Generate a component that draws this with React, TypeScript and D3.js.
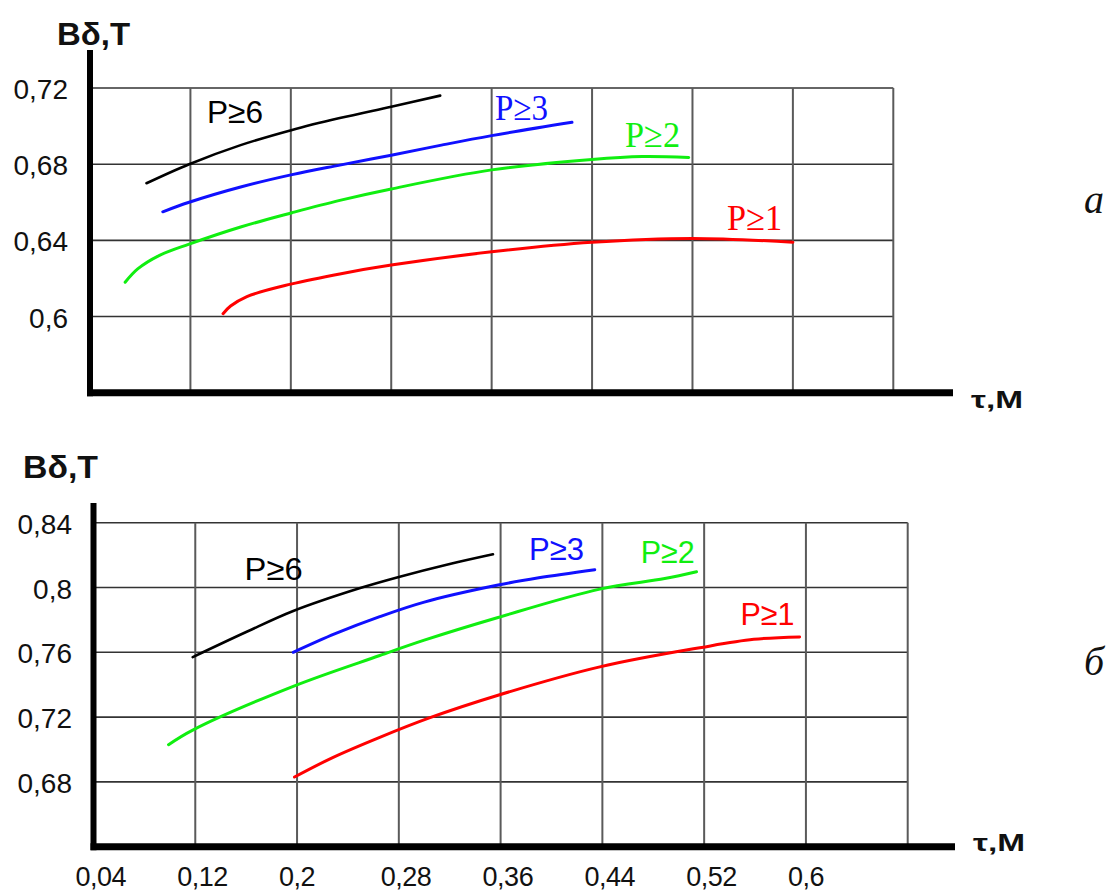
import * as d3 from 'd3';

// x axis (tau, m) — shared by both panels
const xTicks = [0.04, 0.12, 0.2, 0.28, 0.36, 0.44, 0.52, 0.6, 0.68];
const xTickLabels = ['0,04', '0,12', '0,2', '0,28', '0,36', '0,44', '0,52', '0,6'];

// panel "a"
const topYTicks = [0.6, 0.64, 0.68, 0.72];
const topP6: [number, number][] = [[0.085, 0.67], [0.119, 0.68], [0.16, 0.69], [0.201, 0.698], [0.239, 0.7042], [0.28, 0.7102], [0.319, 0.716]];
const topP3: [number, number][] = [[0.098, 0.655], [0.119, 0.66], [0.16, 0.668], [0.201, 0.6745], [0.239, 0.6795], [0.28, 0.6847], [0.32, 0.69], [0.36, 0.695], [0.424, 0.702]];
const topP2: [number, number][] = [[0.068, 0.618], [0.078, 0.625], [0.095, 0.632], [0.119, 0.638], [0.16, 0.647], [0.201, 0.6545], [0.239, 0.661], [0.28, 0.667], [0.36, 0.677], [0.44, 0.6825], [0.48, 0.684], [0.517, 0.6835]];
const topP1: [number, number][] = [[0.146, 0.6015], [0.152, 0.6055], [0.165, 0.6105], [0.2, 0.617], [0.24, 0.6225], [0.28, 0.627], [0.36, 0.634], [0.44, 0.639], [0.52, 0.641], [0.6, 0.639]];
const topLabelPos: [number, number][] = [[0.1332, 0.7016], [0.3627, 0.7032], [0.4663, 0.689], [0.5476, 0.6453]];

// panel "б"
const bottomYTicks = [0.68, 0.72, 0.76, 0.8, 0.84];
const bottomP6: [number, number][] = [[0.118, 0.757], [0.16, 0.7725], [0.197, 0.7855], [0.249, 0.7995], [0.28, 0.8065], [0.32, 0.8145], [0.354, 0.8205]];
const bottomP3: [number, number][] = [[0.197, 0.76], [0.23, 0.7715], [0.265, 0.782], [0.3, 0.791], [0.358, 0.8015], [0.39, 0.806], [0.434, 0.811]];
const bottomP2: [number, number][] = [[0.099, 0.703], [0.118, 0.712], [0.197, 0.739], [0.265, 0.758], [0.3, 0.7675], [0.358, 0.7815], [0.438, 0.799], [0.489, 0.8055], [0.514, 0.8097]];
const bottomP1: [number, number][] = [[0.198, 0.683], [0.228, 0.695], [0.265, 0.7075], [0.304, 0.7195], [0.358, 0.7335], [0.438, 0.751], [0.518, 0.763], [0.559, 0.768], [0.595, 0.7695]];
const bottomLabelPos: [number, number][] = [[0.1588, 0.8045], [0.3824, 0.8169], [0.4702, 0.8151], [0.5486, 0.7767]];

const seriesNames = ['P≥6', 'P≥3', 'P≥2', 'P≥1'];
const seriesColors = ['#000000', '#1010ff', '#10ee10', '#ff0000'];

const SANS = 'Arial, "Liberation Sans", sans-serif';
const SERIF = '"Liberation Serif", "Times New Roman", serif';

interface PanelProps {
  xRange: [number, number];
  yDomain: [number, number];
  yRange: [number, number];
  yTicks: number[];
  series: [number, number][][];
  labelPos: [number, number][];
  labelSerif: boolean;
  labelWidths: number[];
  yLabelRight: number;
  axisTop: number;
  axisEnd: number;
  titleX: number;
  titleY: number;
  titleW: number;
  unitY: number;
  showXLabels: boolean;
  tag: string;
  tagY: number;
}

function Panel(p: PanelProps) {
  const x = d3.scaleLinear().domain([0.04, 0.68]).range(p.xRange);
  const y = d3.scaleLinear().domain(p.yDomain).range(p.yRange);
  const yTop = p.yTicks[p.yTicks.length - 1];
  const line = d3.line<[number, number]>()
    .x(d => x(d[0]))
    .y(d => y(d[1]))
    .curve(d3.curveCatmullRom.alpha(0.5));
  const fmt = (v: number) => String(v).replace('.', ',');

  return (
    <g>
      {/* horizontal grid */}
      {p.yTicks.map(t => (
        <line key={'h' + t} x1={x(0.04)} x2={x(0.68)} y1={y(t)} y2={y(t)} stroke="#333" strokeWidth={1.6} />
      ))}
      {/* vertical grid */}
      {xTicks.slice(1).map(t => (
        <line key={'v' + t} x1={x(t)} x2={x(t)} y1={y(yTop)} y2={y(p.yDomain[0])} stroke="#5a5a5a" strokeWidth={2} />
      ))}
      {/* axes */}
      <line x1={x(0.04)} x2={x(0.04)} y1={p.axisTop} y2={y(p.yDomain[0]) + 3.5} stroke="#000" strokeWidth={6} />
      <line x1={x(0.04) - 3} x2={p.axisEnd} y1={y(p.yDomain[0])} y2={y(p.yDomain[0])} stroke="#000" strokeWidth={7} />

      {/* y tick labels */}
      {p.yTicks.map(t => (
        <text key={'yl' + t} x={p.yLabelRight} y={y(t) + 11} textAnchor="end" fontFamily={SANS} fontSize={28} fill="#111">
          {fmt(t)}
        </text>
      ))}

      {/* x tick labels */}
      {p.showXLabels && xTickLabels.map((lab, i) => (
        <text key={'xl' + i} x={x(xTicks[i]) - 18} y={886} fontFamily={SANS} fontSize={27} letterSpacing={-0.5} fill="#111">
          {lab}
        </text>
      ))}

      {/* curves */}
      {p.series.map((s, i) => (
        <path key={'s' + i} d={line(s) ?? ''} fill="none" stroke={seriesColors[i]} strokeWidth={i === 0 ? 2.6 : 3} strokeLinecap="round" />
      ))}

      {/* curve labels */}
      {p.labelPos.map((pos, i) => {
        const serif = p.labelSerif && i > 0;
        return (
          <text
            key={'cl' + i}
            x={x(pos[0])}
            y={y(pos[1])}
            fontFamily={serif ? SERIF : SANS}
            fontSize={serif ? 36 : 32}
            textLength={p.labelWidths[i]}
            lengthAdjust="spacingAndGlyphs"
            fill={seriesColors[i]}
          >
            {seriesNames[i]}
          </text>
        );
      })}

      {/* axis titles */}
      <text x={p.titleX} y={p.titleY} fontFamily={SANS} fontWeight="bold" fontSize={32} textLength={p.titleW} lengthAdjust="spacingAndGlyphs" fill="#111">
        Bδ,T
      </text>
      <text x={p.axisEnd + 18} y={p.unitY} fontFamily={SANS} fontWeight="bold" fontSize={24} textLength={52} lengthAdjust="spacingAndGlyphs" fill="#111">
        τ,M
      </text>
      <text x={1084} y={p.tagY} fontFamily={SERIF} fontStyle="italic" fontSize={40} fill="#111">
        {p.tag}
      </text>
    </g>
  );
}

export default function App() {
  return (
    <svg width={1107} height={893} style={{ position: 'absolute', left: 0, top: 0, background: '#fff' }}>
      <Panel
        xRange={[90, 893.3]}
        yDomain={[0.56, 0.72]}
        yRange={[392.7, 88]}
        yTicks={topYTicks}
        series={[topP6, topP3, topP2, topP1]}
        labelPos={topLabelPos}
        labelSerif={true}
        labelWidths={[56, 53, 55, 55]}
        yLabelRight={68}
        axisTop={50}
        axisEnd={953}
        titleX={57}
        titleY={45}
        titleW={73}
        unitY={408}
        showXLabels={false}
        tag="a"
        tagY={213}
      />
      <Panel
        xRange={[93.5, 907.7]}
        yDomain={[0.64, 0.84]}
        yRange={[846.7, 522.7]}
        yTicks={bottomYTicks}
        series={[bottomP6, bottomP3, bottomP2, bottomP1]}
        labelPos={bottomLabelPos}
        labelSerif={false}
        labelWidths={[58, 55, 54, 54]}
        yLabelRight={72}
        axisTop={503}
        axisEnd={955}
        titleX={23}
        titleY={478}
        titleW={75}
        unitY={851}
        showXLabels={true}
        tag="б"
        tagY={675}
      />
    </svg>
  );
}
